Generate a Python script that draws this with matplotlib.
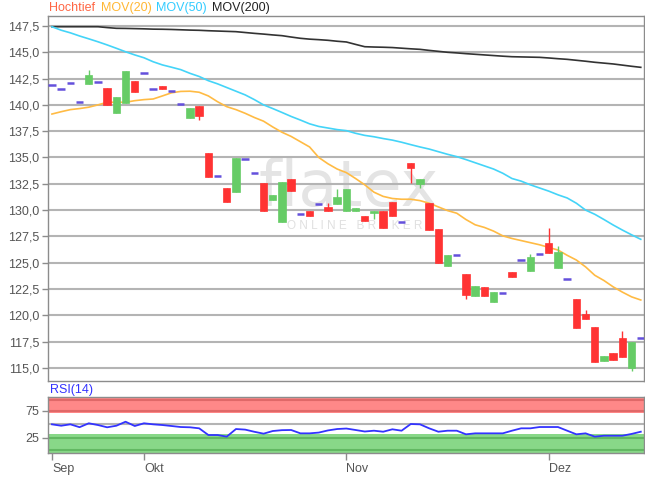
import numpy as np
import pandas as pd
import matplotlib
matplotlib.use("Agg")
import matplotlib.pyplot as plt

plt.rcParams['font.family'] = ['Liberation Sans', 'DejaVu Sans']

# ---------------- data ----------------
dates = pd.bdate_range("2023-09-18", "2023-12-15")
month_names = {9: "Sep", 10: "Okt", 11: "Nov", 12: "Dez"}

opens = [141.9, 141.5, 142.1, 140.3, 142.0, 142.2, 141.6, 139.25, 140.2, 142.25,
         143.0, 141.5, 141.8, 141.3, 140.1, 138.75, 139.9, 135.4, 133.25, 132.1,
         131.7, 134.85, 133.55, 132.6, 130.95, 128.85, 132.95, 129.65, 129.9, 130.6,
         130.3, 130.6, 129.9, 129.9, 129.45, 129.7, 129.9, 130.75, 128.85, 134.5,
         132.5, 130.65, 128.2, 124.7, 125.75, 123.95, 121.85, 122.7, 121.3, 122.1,
         124.1, 125.25, 124.2, 125.85, 126.85, 124.5, 123.45, 121.55, 120.1, 118.9,
         115.65, 116.4, 117.85, 115.0, 117.85]
closes = [141.9, 141.5, 142.1, 140.3, 142.85, 142.2, 140.0, 140.75, 143.2, 141.25,
          143.0, 141.5, 141.5, 141.3, 140.1, 139.7, 138.95, 133.15, 133.25, 130.8,
          134.95, 134.85, 133.55, 129.9, 131.45, 132.65, 131.8, 129.65, 129.45, 130.6,
          129.9, 131.25, 132.0, 130.2, 128.95, 129.9, 128.3, 129.45, 128.85, 134.0,
          132.95, 128.1, 124.95, 125.75, 125.75, 121.95, 122.8, 121.85, 122.25, 122.1,
          123.65, 125.25, 125.55, 125.85, 125.95, 126.0, 123.45, 118.8, 119.65, 115.55,
          116.15, 115.75, 116.05, 117.45, 117.85]
# explicit wick extremes where visible (index: value)
highs_extra = {4: 143.3, 30: 130.65, 31: 132.0, 52: 125.85, 54: 128.3, 55: 126.6,
               58: 120.5, 62: 118.5}
lows_extra = {16: 138.55, 35: 129.15, 39: 132.6, 40: 132.1, 45: 121.55, 63: 114.7}

mov20 = [139.13, 139.35, 139.55, 139.65, 139.78, 140.0, 140.25, 140.25, 140.25, 140.4,
         140.5, 140.56, 140.85, 141.15, 141.28, 141.3, 141.2, 140.85, 140.3, 139.83,
         139.55, 139.2, 138.8, 138.45, 137.9, 137.4, 137.0, 136.5, 136.0, 135.0,
         134.4, 133.9, 133.56, 133.0, 132.4, 131.7, 131.3, 131.1, 131.03, 131.03,
         130.9, 130.65, 130.3, 129.95, 129.7, 129.1, 128.6, 128.35, 128.0, 127.55,
         127.3, 127.1, 126.9, 126.7, 126.45, 126.2, 125.7, 125.25, 124.6, 123.8,
         123.3, 122.7, 122.2, 121.75, 121.45]
mov50 = [147.43, 147.1, 146.85, 146.55, 146.28, 146.0, 145.7, 145.38, 145.05, 144.75,
         144.48, 144.1, 143.8, 143.58, 143.35, 143.0, 142.7, 142.3, 142.0, 141.65,
         141.3, 140.95, 140.5, 140.0, 139.65, 139.28, 138.9, 138.56, 138.2, 137.95,
         137.8, 137.65, 137.55, 137.3, 137.1, 136.97, 136.8, 136.65, 136.45, 136.22,
         136.0, 135.8, 135.55, 135.3, 135.08, 134.8, 134.5, 134.2, 133.9, 133.5,
         133.0, 132.75, 132.4, 132.1, 131.8, 131.45, 131.15, 130.65, 130.0, 129.6,
         129.1, 128.58, 128.1, 127.65, 127.22]
mov200 = [147.43, 147.43, 147.43, 147.43, 147.43, 147.43, 147.35, 147.28, 147.27, 147.25,
          147.23, 147.2, 147.19, 147.17, 147.14, 147.11, 147.09, 147.05, 147.02, 146.99,
          146.96, 146.88, 146.8, 146.73, 146.65, 146.58, 146.45, 146.33, 146.25, 146.2,
          146.14, 146.05, 145.98, 145.75, 145.53, 145.5, 145.48, 145.45, 145.39, 145.33,
          145.28, 145.18, 145.09, 145.0, 144.94, 144.87, 144.81, 144.75, 144.69, 144.63,
          144.58, 144.56, 144.54, 144.52, 144.46, 144.39, 144.33, 144.24, 144.15, 144.05,
          143.97, 143.89, 143.78, 143.67, 143.57]
rsi = [49.8, 47.2, 49.8, 44.5, 51.7, 48.5, 44.3, 47.2, 54.6, 46.7,
       51.7, 49.8, 48.5, 46.7, 44.8, 44.3, 42.4, 30.0, 30.0, 27.0,
       41.1, 40.0, 36.0, 32.5, 37.4, 39.0, 39.3, 33.1, 33.1, 34.5,
       38.5, 41.1, 42.0, 39.3, 36.5, 38.0, 36.1, 40.6, 38.0, 50.4,
       49.8, 42.4, 36.1, 38.0, 38.0, 31.3, 33.1, 33.1, 33.1, 33.1,
       38.0, 42.4, 42.4, 44.8, 44.8, 44.8, 38.0, 31.3, 33.1, 27.0,
       28.7, 28.7, 28.7, 32.0, 36.1]

price_ticks = [115.0, 117.5, 120.0, 122.5, 125.0, 127.5, 130.0, 132.5, 135.0,
               137.5, 140.0, 142.5, 145.0, 147.5]
rsi_ticks = [25, 75]

# ---------------- figure ----------------
W, H = 645, 478
fig = plt.figure(figsize=(W / 100, H / 100), dpi=100)
ax = fig.add_axes([48 / W, 1 - 381 / H, 596 / W, 365 / H])
rax = fig.add_axes([48 / W, 1 - 453 / H, 596 / W, 56 / H])

o = np.array(opens)
c = np.array(closes)
hi = np.maximum(o, c)
lo = np.minimum(o, c)
for k, v in highs_extra.items():
    hi[k] = v
for k, v in lows_extra.items():
    lo[k] = v
xs = np.arange(len(o))

RED = '#ff3333'
GREEN = '#66cc66'
DASH = '#6450dc'
GRID = '#b4b4b4'
FRAME = '#8c8c8c'
TXT = '#555555'

for a in (ax, rax):
    for s in a.spines.values():
        s.set_color(FRAME)
        s.set_linewidth(1.0)

# main panel
ax.set_xlim(-0.43, 64.35)
ax.set_ylim(113.75, 148.45)
ax.set_yticks(price_ticks)
ax.set_yticklabels([f"{v:.1f}".replace('.', ',') for v in price_ticks])
ax.yaxis.grid(True, color=GRID, lw=1.5, zorder=0)
ax.set_axisbelow(True)
ax.set_xticks([])
ax.tick_params(axis='y', length=4, width=1, color=FRAME, labelsize=9,
               labelcolor=TXT, pad=2)

# watermark
ax.text(0.505, 0.53, "flatex", transform=ax.transAxes, ha='center', va='center',
        fontsize=46, color='#e4e4e4', family='DejaVu Sans', zorder=0.5)
ax.text(0.515, 0.425, "O N L I N E   B R O K E R", transform=ax.transAxes,
        ha='center', va='center', fontsize=8.5, color='#e0e0e0', zorder=0.5)

# moving averages
ax.plot(xs, mov200, color='#333333', lw=1.2, zorder=2)
ax.plot(xs, mov50, color='#44d4f8', lw=1.2, zorder=2)
ax.plot(xs, mov20, color='#ffbb44', lw=1.2, zorder=2)

# candles
bw = 0.8
for i in xs:
    if c[i] > o[i]:
        col = GREEN
    elif c[i] < o[i]:
        col = RED
    else:
        col = None
    if col is None:
        ax.hlines(o[i], i - bw / 2, i + bw / 2, color=DASH, lw=1.8, zorder=3)
        continue
    ax.vlines(i, lo[i], hi[i], color=col, lw=1.0, zorder=3)
    ax.bar(i, abs(c[i] - o[i]), bottom=min(o[i], c[i]), width=bw, color=col,
           edgecolor=col, lw=0.5, zorder=4)

# RSI panel
rax.set_xlim(-0.43, 64.35)
rax.set_ylim(-3.3, 100.4)
rax.axhspan(71.3, 100.4, color='#ff8888', lw=0, zorder=0)
rax.axhspan(-3.3, 31.9, color='#88d888', lw=0, zorder=0)
rax.axhline(75, color='#e06868', lw=1.5, zorder=1)
rax.axhline(94.8, color='#e06868', lw=1.5, zorder=1)
rax.axhline(25, color='#62b862', lw=1.5, zorder=1)
rax.axhline(2.2, color='#62b862', lw=1.5, zorder=1)
rax.axhline(50, color=GRID, lw=1.5, zorder=1)
rax.plot(xs, rsi, color='#3333ff', lw=1.3, zorder=3)
rax.set_yticks(rsi_ticks)
rax.set_yticklabels([str(v) for v in rsi_ticks])
rax.tick_params(axis='y', length=4, width=1, color=FRAME, labelsize=9,
                labelcolor=TXT, pad=2)

months = dates.month
tick_pos = [i for i in range(len(dates)) if i == 0 or months[i] != months[i - 1]]
rax.set_xticks(tick_pos)
rax.set_xticklabels([month_names[months[i]] for i in tick_pos])
rax.tick_params(axis='x', length=5, width=1, color=FRAME, labelsize=9,
                labelcolor=TXT, pad=2)
for lbl in rax.get_xticklabels():
    lbl.set_ha('left')

# header legend
yh = 1 - 8 / H
for txt, col, xp in [("Hochtief", '#ff6644', 49), ("MOV(20)", '#ffb733', 101),
                     ("MOV(50)", '#33ccff', 156), ("MOV(200)", '#222222', 212)]:
    fig.text(xp / W, yh, txt, color=col, fontsize=9, ha='left', va='center')
fig.text(50 / W, 1 - 390 / H, "RSI(14)", color='#3333ff', fontsize=9,
         ha='left', va='center')

fig.savefig("out.png", dpi=100)
